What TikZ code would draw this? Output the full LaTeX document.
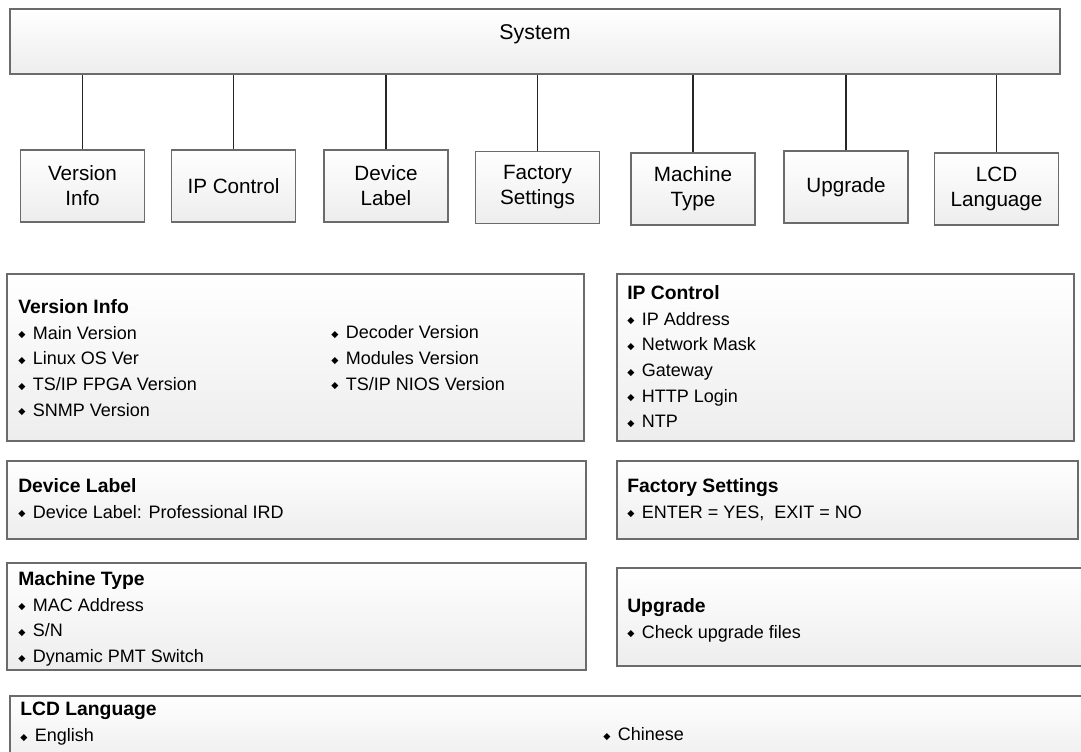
\documentclass[tikz,border=0pt]{standalone}
\usepackage{fontspec}
\setmainfont{Liberation Sans}
\newfontfamily\symfont{DejaVu Sans}
\usepackage{tikz}
\usetikzlibrary{calc,positioning,fit}

\newcommand{\dia}{\makebox[11pt][l]{\raisebox{1.1pt}{\symfont\fontsize{7}{7}\selectfont ◆}}}
\newcommand{\hd}[1]{{\fontsize{14.5}{19.3}\selectfont\bfseries #1}}

\tikzset{
  box/.style={draw=black!58, line width=1.1pt, top color=white, bottom color=black!7},
  menu/.style={box, minimum width=93pt, minimum height=54pt, inner sep=0pt, align=center,
    font=\fontsize{15.5}{18.75}\selectfont},
  panel/.style={box, inner sep=0pt},
  items/.style={anchor=north west, align=left, inner sep=0pt, font=\fontsize{13.5}{19.3}\selectfont},
  link/.style={line width=1.3pt, black!85}
}

\begin{document}
\begin{tikzpicture}[x=0.75pt,y=-0.75pt]
\clip (0,0) rectangle (1081,751);
\node[box, fit={(10,9) (1060,74)}, inner sep=0pt, font=\fontsize{16}{19}\selectfont] (sys) {System};

\node[menu] (vi) at (82.5,186) {Version\\Info};
\node[menu] (ip) at (233.5,186) {IP Control};
\node[menu] (dl) at (386,186) {Device\\Label};
\node[menu] (fs) at (537.5,187.5) {Factory\\Settings};
\node[menu] (mt) at (693,189) {Machine\\Type};
\node[menu] (up) at (846,187) {Upgrade};
\node[menu] (lcd) at (996.5,189) {LCD\\Language};
\foreach \n in {vi,ip,dl,fs,mt,up,lcd}
  \draw[link] (\n.north) -- (\n.north |- sys.south);

\node[panel, fit={(7,274) (584,441)}] (pvi) {};
\node[panel, fit={(617,274) (1074,441)}] (pip) {};
\node[panel, fit={(7,461) (586,539)}] (pdl) {};
\node[panel, fit={(617,461) (1078,539)}] (pfs) {};
\node[panel, fit={(7,563) (586,670)}] (pmt) {};
\node[panel, fit={(617,568) (1090,666)}] (pup) {};
\node[panel, fit={(10,696) (1095,765)}] (plcd) {};

\node[items] (tvi) at (18,299) {\hd{Version Info}\\ \dia Main Version\\ \dia Linux OS Ver\\
  \dia TS/IP FPGA Version\\ \dia SNMP Version};
\node[items] (tvi2) at (331,325.5) {\dia Decoder Version\\ \dia Modules Version\\ \dia TS/IP NIOS Version};
\node[items] (tip) at (627,285) {\hd{IP Control}\\ \dia IP Address\\ \dia Network Mask\\
  \dia Gateway\\ \dia HTTP Login\\ \dia NTP};
\node[items] (tdl) at (18,478) {\hd{Device Label}\\ \dia Device Label: Professional IRD};
\node[items] (tfs) at (627,478) {\hd{Factory Settings}\\ \dia ENTER = YES,\ \ EXIT = NO};
\node[items] (tmt) at (18,571) {\hd{Machine Type}\\ \dia MAC Address\\ \dia S/N\\ \dia Dynamic PMT Switch};
\node[items] (tup) at (627,598) {\hd{Upgrade}\\ \dia Check upgrade files};
\node[items] (tlcd) at (20,702) {\hd{LCD Language}\\ \dia English};
\node[items] (tlcd2) at (603,727.5) {\dia Chinese};
\end{tikzpicture}
\end{document}
